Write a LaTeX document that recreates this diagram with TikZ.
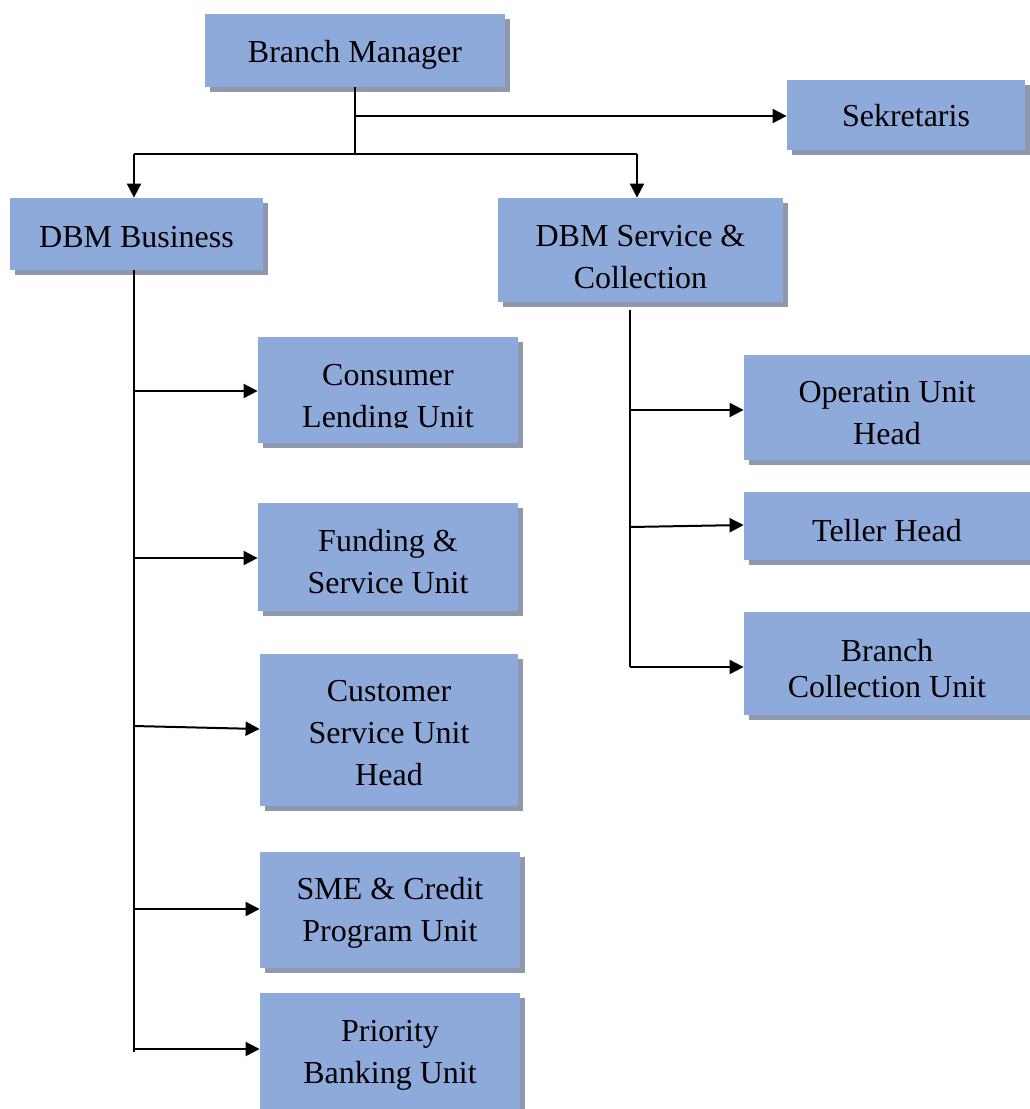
\documentclass[tikz,border=0pt]{standalone}
\usepackage{fontspec}
\setmainfont{Liberation Serif}
\usetikzlibrary{arrows.meta,shadows}
\definecolor{boxfill}{HTML}{8EAADB}
\definecolor{boxshadow}{HTML}{8E99AE}
\begin{document}
\begin{tikzpicture}[x=0.5pt,y=-0.5pt,
  txt/.style={align=center, font=\fontsize{16}{21}\selectfont, inner sep=0pt},
  box/.style={fill=boxfill, draw=none, inner sep=0pt,
    drop shadow={shadow xshift=2.5pt, shadow yshift=-2.5pt, fill=boxshadow, opacity=1}},
  conn/.style={line width=1pt, black},
  arr/.style={conn, -{Triangle[length=7pt,width=7pt]}}]
\useasboundingbox (0,0) rectangle (1029,1109);

% boxes
\node[box, minimum width=150pt, minimum height=36.5pt] (bm) at (355,50.5) {};
\node[txt] (bmt) at ([yshift=-2pt]bm.center) {Branch Manager};
\node[box, minimum width=119pt, minimum height=35pt] (sek) at (906,115) {};
\node[txt] (sekt) at ([yshift=-0.5pt]sek.center) {Sekretaris};
\node[box, minimum width=126.5pt, minimum height=36pt] (dbmb) at (136.5,234) {};
\node[txt] (dbmbt) at ([yshift=-1.5pt]dbmb.center) {DBM Business};
\node[box, minimum width=142.5pt, minimum height=52pt] (dbms) at (640.5,250) {};
\node[txt] (dbmst) at ([yshift=-3.5pt]dbms.center) {DBM Service \&\\Collection};

\node[box, minimum width=130pt, minimum height=53pt] (cons) at (388,390) {};
\begin{scope}
  \clip (258,337) rectangle (518,427);
  \node[txt] (constext) at (388,399) {Consumer\\Lending Unit};
\end{scope}
\node[box, minimum width=130pt, minimum height=54pt] (fund) at (388,557) {};
\node[txt] (fundt) at ([yshift=-2.5pt]fund.center) {Funding \&\\Service Unit};
\node[box, minimum width=129pt, minimum height=76pt] (cust) at (389,730) {};
\node[txt] (custt) at ([yshift=-1.5pt]cust.center) {Customer\\Service Unit\\Head};
\node[box, minimum width=130pt, minimum height=58pt] (sme) at (390,910) {};
\node[txt] (smet) at ([yshift=-1.5pt]sme.center) {SME \& Credit\\Program Unit};
\node[box, minimum width=130pt, minimum height=58pt] (prio) at (390,1051) {};
\node[txt] (priot) at ([yshift=-2pt]prio.center) {Priority\\Banking Unit};

\node[box, minimum width=143pt, minimum height=52.5pt] (op) at (887,407.5) {};
\node[txt] (opt) at ([yshift=-3pt]op.center) {Operatin Unit\\Head};
\node[box, minimum width=143pt, minimum height=34pt] (tel) at (887,526) {};
\node[txt] (telt) at ([yshift=-2.5pt]tel.center) {Teller Head};
\node[box, minimum width=143pt, minimum height=51.5pt] (bcu) at (887,663.5) {};
\node[txt] (bcut) at ([yshift=-2.5pt]bcu.center) {Branch\\[-3pt]Collection Unit};

% top connectors
\coordinate (j1) at (355,154);
\coordinate (j2) at (355,116);
\coordinate (jl) at (134,154);
\coordinate (jr) at (637,154);
\draw[conn] (bm.south) -- (j1);
\draw[arr] (j2) -- (sek.west |- j2);
\draw[conn] (jl) -- (jr);
\draw[arr] (jl) -- (jl |- dbmb.north);
\draw[arr] (jr) -- (jr |- dbms.north);

% left trunk
\coordinate (lt) at (134,270);
\coordinate (lb) at (134,1052);
\draw[conn] (lt) -- (lb);
\coordinate (l1) at (134,391);
\coordinate (l2) at (134,558);
\coordinate (l3) at (134,726);
\coordinate (l4) at (134,909);
\coordinate (l5) at (134,1049);
\draw[arr] (l1) -- (cons.west |- l1);
\draw[arr] (l2) -- (fund.west |- l2);
\draw[arr] (l3) -- ([yshift=-1.5pt]cust.west |- l3);
\draw[arr] (l4) -- (sme.west |- l4);
\draw[arr] (l5) -- (prio.west |- l5);

% right trunk
\coordinate (rt) at (630,310);
\coordinate (rb) at (630,667);
\draw[conn] (rt) -- (rb);
\coordinate (r1) at (630,410);
\coordinate (r2) at (630,527);
\draw[arr] (r1) -- (op.west |- r1);
\draw[arr] (r2) -- ([yshift=1pt]tel.west |- r2);
\draw[arr] (rb) -- (bcu.west |- rb);
\end{tikzpicture}
\end{document}
